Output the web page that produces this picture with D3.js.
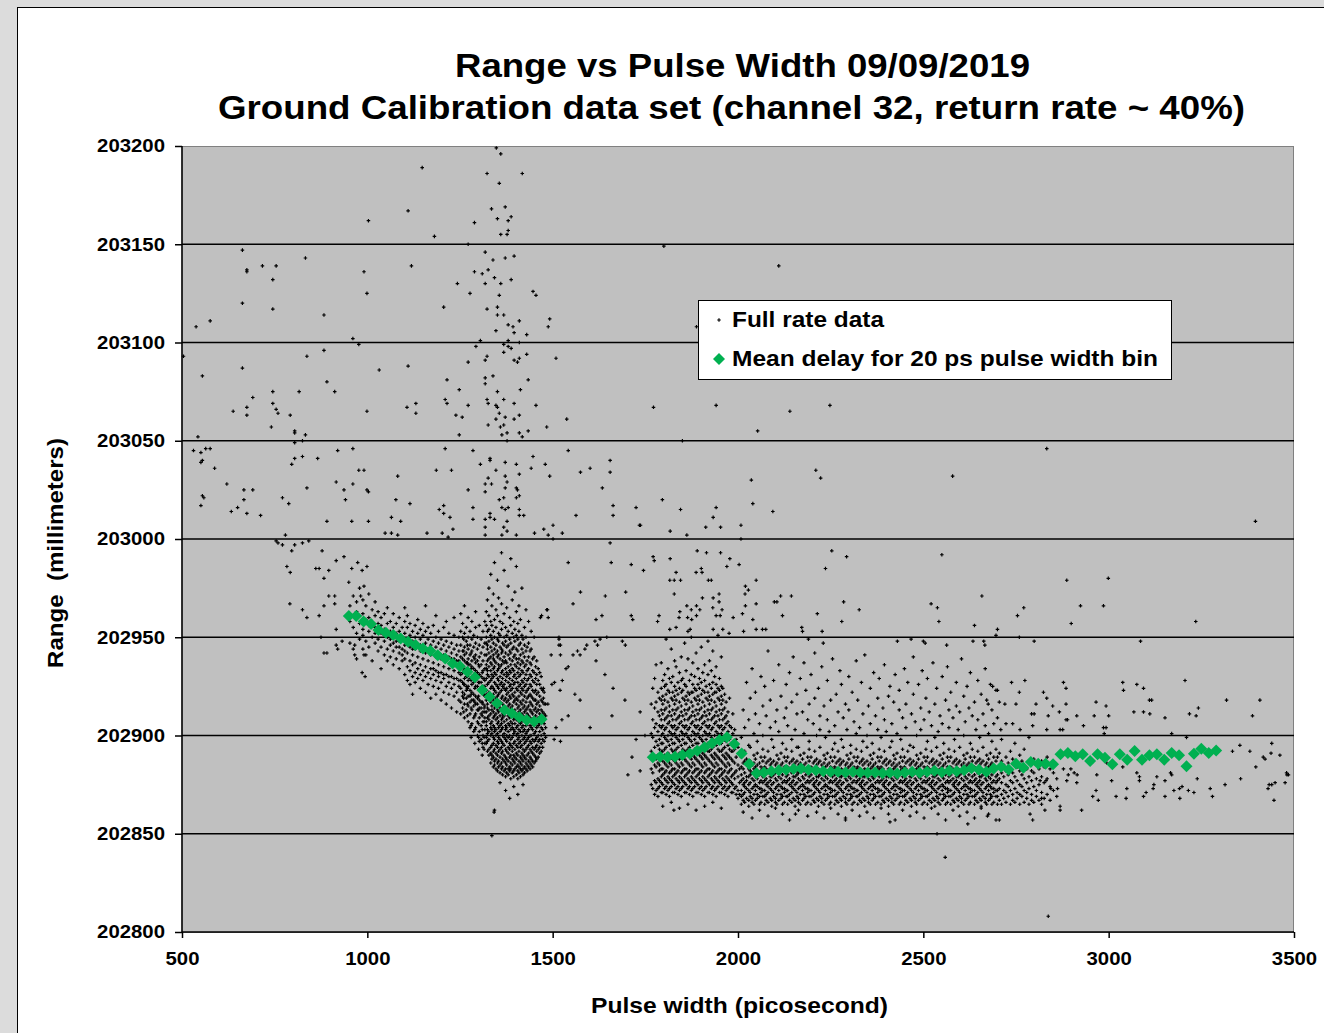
<!DOCTYPE html>
<html>
<head>
<meta charset="utf-8">
<script src="https://cdn.jsdelivr.net/npm/d3@7"></script>
<style>
  html, body { margin: 0; padding: 0; background: #dcdcdc; overflow: hidden; }
  svg { display: block; }
  text { font-family: "Liberation Sans", Arial, sans-serif; font-weight: bold; fill: #000; }
</style>
</head>
<body>
<div id="chart"></div>
<script>
(function () {
  // axis ticks
  const X_TICKS = [500, 1000, 1500, 2000, 2500, 3000, 3500];
  const Y_TICKS = [202800, 202850, 202900, 202950, 203000, 203050, 203100, 203150, 203200];

  // mean delay per 20 ps pulse width bin (green diamonds)
  const binPs = [
    950, 970, 990, 1010, 1030, 1050, 1070, 1090, 1110, 1130, 1150, 1170, 1190, 1210,
    1230, 1250, 1270, 1290, 1310, 1330, 1350, 1370, 1390, 1410, 1430, 1450, 1470,
    1770, 1790, 1810, 1830, 1850, 1870, 1890, 1910, 1930, 1950, 1970, 1990, 2010,
    2030, 2050, 2070, 2090, 2110, 2130, 2150, 2170, 2190, 2210, 2230, 2250, 2270,
    2290, 2310, 2330, 2350, 2370, 2390, 2410, 2430, 2450, 2470, 2490, 2510, 2530,
    2550, 2570, 2590, 2610, 2630, 2650, 2670, 2690, 2710, 2730, 2750, 2770, 2790,
    2810, 2830, 2850, 2870, 2890, 2910, 2930, 2950, 2970, 2990, 3010, 3030, 3050,
    3070, 3090, 3110, 3130, 3150, 3170, 3190, 3210, 3230, 3250, 3270, 3290,
  ];
  const binMean = [
    202960.8, 202960.8, 202958.0, 202956.7, 202953.7, 202952.3, 202951.1, 202949.4,
    202947.7, 202946.0, 202944.3, 202943.1, 202940.9, 202939.2, 202936.7, 202935.3,
    202932.5, 202929.6, 202923.2, 202919.7, 202916.4, 202913.0, 202911.3, 202909.3,
    202907.9, 202907.1, 202908.3,
    202888.9, 202889.2, 202888.9, 202889.2, 202890.1, 202890.9, 202892.3, 202894.0,
    202896.0, 202897.7, 202899.1, 202895.7, 202890.9, 202885.5, 202880.8, 202881.2,
    202881.8, 202882.3, 202882.6, 202882.9, 202883.2, 202882.6, 202882.3, 202881.8,
    202881.5, 202881.5, 202881.2, 202881.5, 202881.2, 202881.0, 202881.2, 202880.8,
    202881.0, 202880.6, 202881.2, 202881.5, 202881.0, 202881.5, 202882.0, 202881.3,
    202882.0, 202881.8, 202882.3, 202883.3, 202882.6, 202881.6, 202883.2, 202884.1,
    202882.7, 202885.6, 202883.6, 202886.5, 202885.6, 202885.6, 202885.4, 202890.4,
    202891.1, 202889.4, 202890.4, 202887.0, 202890.4, 202888.7, 202885.4, 202890.4,
    202887.7, 202892.1, 202887.7, 202889.9, 202890.4, 202887.7, 202891.1, 202889.9,
    202884.3, 202890.7, 202893.3, 202891.1, 202892.4,
  ];

  // full rate data: scattered single shots [pulse width ps, range mm]
  const sparsePts = [
    [1348,203199],[1360,203196],[1148,203189],[1323,203186],[1418,203186],[1356,203181],
    [1110,203167],[1335,203168],[1372,203169],[1003,203162],[1351,203163],[1380,203162],
    [1388,203164],[1289,203161],[1380,203157],[1360,203155],[1377,203155],[1181,203154],
    [1272,203150],[663,203147],[1318,203146],[833,203143],[1339,203142],[1372,203143],
    [1396,203144],[717,203139],[754,203139],[675,203137],[675,203136],[1119,203139],
    [991,203136],[1289,203136],[1326,203137],[1310,203135],[1343,203133],[745,203132],
    [1388,203132],[1243,203130],[1318,203130],[1360,203130],[999,203125],[1277,203125],
    [1356,203124],[1447,203126],[1455,203124],[663,203120],[745,203117],[1206,203118],
    [1323,203117],[1351,203118],[1351,203114],[1368,203114],[576,203111],[538,203108],
    [883,203114],[1492,203112],[1488,203108],[1347,203106],[1380,203109],[1393,203108],
    [1410,203111],[1396,203105],[1430,203104],[961,203102],[977,203099],[1305,203101],
    [1380,203101],[1368,203099],[1380,203098],[1388,203097],[1410,203100],[1293,203098],
    [504,203093],[837,203093],[883,203096],[1323,203093],[1318,203091],[1368,203095],
    [1396,203091],[1405,203090],[1410,203092],[1430,203094],[1509,203092],[555,203083],
    [663,203087],[1032,203086],[1110,203088],[1272,203090],[1339,203083],[1318,203082],
    [1318,203079],[1215,203081],[1434,203081],[891,203080],[912,203075],[745,203075],
    [691,203072],[816,203075],[1248,203076],[1351,203075],[1413,203076],[745,203069],
    [675,203067],[754,203066],[638,203065],[759,203064],[675,203063],[792,203063],
    [999,203065],[1107,203067],[1131,203069],[1131,203064],[1210,203071],[1215,203069],
    [1272,203068],[1323,203071],[1326,203069],[1347,203068],[1351,203067],[1368,203071],
    [1396,203069],[1455,203068],[1239,203063],[1256,203062],[1356,203064],[1347,203061],
    [1372,203062],[1410,203063],[1396,203061],[1538,203061],[741,203057],[1326,203058],
    [1359,203057],[1368,203058],[1484,203057],[804,203055],[804,203054],[833,203053],
    [543,203052],[1248,203053],[1363,203053],[1377,203054],[1410,203054],[1418,203052],
    [1434,203055],[1377,203050],[804,203049],[825,203050],
    [531,203045],[551,203044],[564,203046],[576,203046],[961,203046],[920,203045],
    [555,203040],[551,203039],[796,203038],[804,203041],[825,203042],[866,203041],
    [1210,203046],[1285,203045],[1331,203041],[1331,203040],[1305,203038],[1372,203039],
    [1402,203038],[1447,203042],[1480,203038],[1542,203045],[588,203036],[977,203035],
    [991,203035],[1186,203035],[1227,203035],[1347,203035],[1442,203036],[1575,203034],
    [621,203028],[667,203025],[691,203025],[837,203026],[916,203029],[937,203025],
    [961,203028],[999,203025],[1003,203024],[1082,203032],[1272,203025],[1318,203028],
    [1326,203031],[1335,203028],[1318,203024],[1372,203032],[1377,203029],[1372,203026],
    [1402,203026],[1405,203025],[1410,203033],[1492,203032],[555,203022],[559,203021],
    [551,203017],[667,203020],[771,203021],[788,203018],[941,203020],[1077,203020],
    [1115,203018],[1402,203021],[1410,203022],[1356,203020],[1368,203021],[633,203014],
    [650,203016],[675,203013],[712,203012],[1194,203015],[1206,203017],[1206,203013],
    [1285,203016],[1331,203013],[1363,203016],[1372,203015],[1380,203016],[1410,203015],
    [1410,203012],[1422,203012],[1563,203012],[891,203009],[958,203009],[1003,203009],
    [1065,203011],[1090,203009],[1223,203011],[1285,203010],[1331,203011],[1343,203010],
    [1318,203010],[1377,203009],[1501,203007],[779,203002],[1048,203003],[1065,203003],
    [1082,203002],[1161,203003],[1202,203003],[1218,203001],[1231,203005],[1318,203006],
    [1318,203002],[1368,203006],[1363,203002],[1377,203004],[1402,203002],[1451,203003],
    [1476,203005],[1488,203002],[1526,203003],[1501,203000],
    [754,202999],[771,202997],[759,202998],[804,202997],[825,202998],[842,202999],
    [796,202994],[783,202986],[792,202983],[791,202967],[825,202964],[837,202960],
    [870,202961],[875,202950],[883,202966],[883,202980],[861,202985],[870,202985],
    [896,202984],[878,202994],[916,202989],[937,202991],[896,202971],[912,202971],
    [912,202967],[916,202954],[916,202946],[920,202944],[883,202942],[891,202942],
    [932,202948],[950,202978],[958,202985],[974,202988],[999,202986],[991,202976],
    [986,202984],[982,202971],[966,202946],[966,202941],[986,202932],[994,202930],
    [991,202941],[1542,202988],[1575,202973],[1555,202967],[1517,202950],[1521,202946],
    [1496,202941],[1521,202941],[1542,202935],[1567,202943],[1555,202941],[1526,202928],
    [1505,202927],[1475,202924],[1475,202919],[1542,202910],[1509,202904],[1521,202897],
    [1488,202960],[1467,202960],[1484,202964],
    [1800,203149],[2110,203139],[1888,203108],[1772,203067],[1941,203068],[2053,203055],
    [2140,203065],[2248,203068],[1850,203050],[1601,203036],[1655,203040],[1655,203034],
    [1634,203026],[1663,203017],[1663,203012],[1725,203016],[1734,203007],[1737,203007],
    [1796,203020],[1845,203015],[1941,203016],[1933,203011],[1913,203006],[1953,203006],
    [2008,203007],[2036,203030],[2040,203018],[2094,203014],[2210,203035],[2223,203031],
    [1817,203004],[1862,203002],[2008,203000],[1655,202998],[1658,202988],[1712,202987],
    [1771,202991],[1774,202989],[1817,202990],[1745,202984],[1816,202979],[1828,202979],
    [1845,202979],[1833,202983],[1890,202994],[1915,202993],[1953,202993],[1978,202990],
    [1970,202986],[2003,202987],[1887,202983],[1901,202985],[1903,202983],[1928,202979],
    [1920,202979],[2049,202979],[2020,202976],[2028,202974],[2253,202994],[2293,202991],
    [2236,202985],[1642,202971],[1697,202973],[1486,202964],[1470,202961],[1617,202959],
    [1633,202961],[1712,202961],[1716,202959],[1783,202958],[1787,202961],[1828,202972],
    [1841,202960],[1843,202963],[1862,202966],[1888,202966],[1874,202964],[1864,202960],
    [1875,202959],[1888,202961],[1897,202964],[1904,202970],[1932,202965],[1933,202970],
    [1949,202972],[1949,202968],[1957,202964],[1941,202961],[1952,202961],[1987,202960],
    [2012,202962],[2020,202966],[2019,202972],[2049,202967],[2040,202959],[2098,202968],
    [2105,202968],[2115,202971],[2120,202961],[2144,202971],[2214,202962],[2172,202955],
    [2174,202953],[2227,202953],[2285,202968],[2280,202958],[2327,202964],[1816,202954],
    [1865,202953],[1871,202954],[1933,202954],[1959,202954],[1976,202952],[2015,202953],
    [2049,202954],[2066,202954],[2075,202954],[2190,202949],[2230,202947],[2430,202948],
    [2467,202949],[1517,202949],[1517,202946],[1614,202948],[1621,202946],[1688,202948],
    [1696,202946],[1646,202950],[1592,202946],
    [2833,203046],[2579,203032],[3396,203009],[2550,202992],[2887,202979],[2999,202980],
    [2658,202971],[2521,202967],[2538,202965],[2771,202965],[2924,202966],[2986,202966],
    [2542,202958],[2754,202961],[2899,202957],[3235,202958],[2638,202956],[2700,202954],
    [2696,202951],[2759,202950],[2634,202948],[2663,202948],[2799,202948],[3086,202948],
    [2500,202948],[2505,202947],[2563,202946],[2666,202946],
    [2687,202925],[2738,202927],[2774,202928],[2878,202927],[3038,202927],[3076,202926],
    [3206,202928],[2885,202924],[2759,202922],[2824,202922],[2833,202919],[3040,202923],
    [3094,202924],[3110,202918],[3116,202918],[3318,202918],[3408,202918],[2700,202923],
    [2675,202916],[2705,202917],[2720,202916],[2750,202916],[2804,202916],[2849,202915],
    [2885,202916],[2966,202917],[2993,202915],[2867,202912],[2792,202911],[2799,202911],
    [2837,202910],[2885,202908],[2914,202910],[2961,202910],[3000,202910],[3068,202912],
    [3094,202912],[3111,202911],[3152,202909],[3218,202911],[3236,202910],[3242,202914],
    [3388,202910],[2709,202903],[2741,202906],[2761,202903],[2795,202905],[2833,202903],
    [2869,202903],[2876,202903],[2932,202905],[2986,202904],[2993,202904],[2988,202901],
    [2889,202908],[3170,202901],[3210,202899],[3334,202892],[3381,202892],[3440,202896],
    [3438,202891],[3417,202889],[3422,202888],[3462,202890],[3397,202884],[3480,202881],
    [3485,202880],[3433,202875],[3440,202875],[3476,202876],[3446,202867],[3356,202878],
    [3314,202875],[3280,202869],[3239,202878],[3230,202871],[3215,202872],[3191,202873],
    [3176,202872],[3192,202868],[3152,202869],[3152,202877],[3170,202880],[3167,202881],
    [3130,202879],[3122,202875],[3120,202873],[3101,202871],[3094,202869],[3083,202877],
    [3083,202879],[3076,202881],[3049,202873],[3047,202868],[3038,202884],[3020,202869],
    [3008,202877],[2995,202886],[2968,202880],[2966,202872],[2957,202869],[2972,202867],
    [2927,202862],[2914,202876],[2915,202880],[2907,202881],[2898,202883],[2891,202880],
    [2887,202877],[2878,202883],[2862,202873],[2869,202864],[2844,202873],[2828,202862],
    [2788,202860],[2795,202857],[2673,202859],[2819,202868],[2815,202877],[2831,202877],
    [3481,202880],[3449,202876],[3430,202873],[3354,202895],[3198,202874],[3274,202873],
    [2837,202808],[2559,202838],[2537,202850],[1336,202849],[1342,202861],[1827,202862],
    [2869,202862],[2290,202858],[2410,202856],[2620,202855],[2155,202860],[2705,202857],
    [1536,202934],[1574,202941],[1628,202949],[1641,202931],[1663,202924],[1695,202918],
    [1574,202918],[1714,202889],[1736,202882],[1703,202880],[1660,202910],[1525,202908],
    [1504,202898],[1560,202921],[1617,202938],[1601,202904],[1749,202900],[1736,202912],
    [1725,202898],[1520,202923],[1587,202944],[1498,202926],[1487,202916],
  ];

  // full rate data, dense part: one column per pulse width [ps, mm, mm, ...]
  // shots around the first (short pulse) cluster
  const clusterLowCols = [
    [953,202958,202966,202947],[962,202955,202971,202961,202944],
    [971,202963,202952,202939,202968],[979,202957,202949,202975,202961],
    [988,202954,202962,202944,202969,202951],[996,202959,202948,202966,202941],
    [1004,202953,202960,202945,202972,202956],[1013,202950,202958,202964,202938],
    [1021,202955,202947,202961,202952,202968],[1029,202949,202957,202943,202963],
    [1037,202952,202945,202960,202956,202934],[1046,202948,202954,202941,202962,202951],
    [1054,202950,202944,202957,202938,202965],[1062,202946,202953,202940,202958,202949],
    [1070,202951,202943,202955,202936,202947,202962],[1078,202945,202952,202939,202957,202948],
    [1086,202948,202942,202953,202934,202960,202945],[1094,202944,202950,202938,202955,202941],
    [1101,202946,202939,202952,202931,202958,202943,202965],[1108,202942,202949,202935,202955,202928,202961],
    [1115,202945,202938,202951,202933,202957,202926],[1122,202941,202948,202936,202953,202930,202944,202921],
    [1129,202944,202937,202950,202932,202956,202927],[1136,202940,202946,202934,202952,202929,202959],
    [1143,202943,202936,202949,202931,202954,202924,202946],[1150,202939,202945,202933,202951,202928,202957],
    [1157,202942,202935,202947,202930,202953,202922,202966],[1164,202938,202944,202932,202949,202926,202955],
    [1171,202941,202934,202946,202929,202952,202919,202943],[1178,202937,202943,202931,202948,202925,202956,202934],
    [1185,202940,202933,202945,202928,202950,202921,202961],[1192,202936,202942,202930,202947,202924,202953,202932],
    [1199,202939,202932,202944,202927,202949,202918,202941],[1206,202935,202941,202929,202946,202922,202955,202931],
    [1213,202938,202931,202943,202925,202948,202916,202940,202958],[1220,202934,202940,202927,202945,202921,202952,202930],
    [1227,202937,202930,202942,202924,202947,202914,202939],[1234,202933,202939,202926,202944,202920,202951,202929,202960],
    [1241,202936,202929,202941,202922,202946,202912,202938],[1247,202932,202938,202925,202943,202918,202950,202928],
    [1252,202931,202924,202940,202917,202946,202936,202911,202953,202928,202962],
    [1257,202935,202927,202943,202920,202950,202932,202914,202939,202957,202922],
    [1260,202919,202926,202934,202943,202949,202912],
    [1262,202929,202938,202921,202945,202933,202916,202952,202926,202941,202909,202966],
    [1267,202934,202925,202942,202919,202948,202930,202913,202937,202955,202923],
    [1270,202916,202924,202930,202937,202946,202910],
    [1272,202928,202936,202920,202944,202931,202915,202950,202925,202939,202907,202960],
    [1277,202932,202923,202941,202917,202946,202929,202911,202936,202953,202920,202904],
    [1280,202914,202921,202928,202934,202942,202905,202899],
    [1282,202926,202935,202918,202943,202930,202913,202949,202922,202938,202906,202958],
    [1287,202931,202921,202940,202915,202945,202927,202909,202934,202951,202918,202902],
    [1290,202910,202917,202924,202931,202939,202903,202896],
    [1292,202925,202933,202916,202941,202928,202911,202947,202920,202937,202904,202963,202955],
    [1297,202929,202919,202938,202913,202944,202925,202907,202932,202950,202916,202900],
    [1300,202906,202913,202920,202927,202936,202899,202893],
    [1302,202923,202931,202914,202940,202927,202909,202946,202918,202935,202902,202956,202897],
    [1307,202927,202917,202936,202911,202942,202923,202905,202930,202949,202914,202898],
    [1310,202903,202910,202917,202924,202932,202896,202890],
    [1312,202921,202929,202912,202938,202925,202907,202945,202916,202933,202900,202953,202894],
    [1315,202899,202907,202914,202921,202929,202893],
    [1317,202925,202915,202934,202909,202941,202920,202903,202928,202947,202912,202896,202958],
    [1321,202896,202899,202905,202907,202912,202918,202921,202923,202929,202934,202936,202941,202947,202950,202956,202963],
    [1324,202892,202897,202901,202903,202909,202914,202916,202920,202926,202931,202933,202938,202944,202946,202953,202969],
    [1328,202890,202893,202898,202902,202908,202910,202913,202919,202922,202927,202930,202935,202939,202942,202948,202954,202961,202975],
    [1333,202886,202891,202894,202900,202904,202906,202911,202917,202920,202924,202928,202933,202937,202940,202945,202951,202958,202982],
    [1336,202888,202890,202895,202901,202903,202907,202913,202915,202919,202925,202929,202931,202936,202943,202949,202956,202966],
    [1340,202884,202889,202892,202896,202899,202905,202909,202912,202918,202921,202924,202930,202934,202939,202941,202947,202953,202972],
    [1343,202885,202887,202893,202898,202902,202904,202910,202914,202917,202923,202927,202932,202935,202938,202944,202950,202959,202988,202862],
    [1347,202883,202888,202891,202895,202900,202903,202908,202911,202916,202919,202922,202926,202931,202937,202942,202946,202955,202964],
    [1351,202882,202886,202890,202894,202897,202901,202906,202909,202913,202918,202920,202925,202929,202933,202940,202943,202949,202961,202979],
    [1354,202884,202887,202892,202896,202899,202904,202907,202912,202915,202921,202924,202928,202934,202936,202941,202948,202952,202970],
    [1358,202881,202885,202889,202893,202898,202902,202905,202910,202914,202917,202922,202926,202930,202935,202939,202945,202951,202958,202876],
    [1362,202883,202886,202891,202894,202897,202903,202906,202908,202913,202919,202923,202927,202932,202936,202942,202944,202954,202967,202993],
    [1365,202880,202884,202888,202892,202896,202900,202904,202909,202911,202916,202920,202925,202929,202933,202938,202943,202947,202957],
    [1369,202882,202887,202890,202895,202899,202901,202907,202910,202915,202918,202924,202926,202931,202937,202940,202946,202950,202962,202984],
    [1373,202879,202883,202886,202889,202893,202898,202903,202905,202912,202914,202919,202923,202928,202934,202938,202942,202948,202955,202872],
    [1376,202881,202885,202888,202892,202897,202900,202904,202908,202913,202917,202921,202924,202930,202932,202937,202945,202951,202965],
    [1380,202880,202883,202887,202891,202894,202899,202902,202906,202910,202915,202918,202922,202927,202931,202935,202941,202946,202953,202976],
    [1384,202882,202884,202889,202893,202896,202900,202905,202909,202912,202916,202920,202925,202929,202933,202939,202943,202949,202960,202868],
    [1387,202878,202883,202886,202890,202895,202898,202903,202907,202911,202914,202919,202923,202926,202932,202936,202942,202947,202956,202990],
    [1391,202881,202885,202888,202892,202894,202899,202904,202906,202910,202915,202921,202924,202928,202934,202938,202944,202952,202969],
    [1395,202879,202882,202887,202890,202896,202901,202903,202908,202912,202917,202920,202926,202930,202933,202940,202945,202950,202958,202874],
    [1398,202883,202886,202889,202893,202897,202902,202906,202909,202913,202918,202922,202927,202931,202936,202941,202948,202954,202973],
    [1402,202880,202884,202888,202891,202895,202900,202904,202908,202911,202916,202919,202924,202929,202935,202939,202944,202951,202963,202986],
    [1406,202878,202882,202885,202890,202894,202898,202901,202905,202910,202914,202918,202923,202927,202932,202937,202943,202949,202957,202870],
    [1409,202881,202884,202887,202892,202896,202899,202903,202907,202912,202915,202920,202925,202930,202934,202939,202946,202953,202966],
    [1413,202879,202883,202886,202889,202894,202897,202902,202906,202909,202913,202917,202922,202926,202931,202936,202941,202947,202959],
    [1417,202882,202885,202888,202891,202895,202900,202904,202907,202911,202916,202921,202924,202928,202933,202938,202944,202951,202975],
    [1420,202880,202883,202887,202890,202893,202898,202902,202905,202910,202914,202918,202923,202927,202932,202937,202942,202949,202875],
    [1424,202881,202884,202889,202892,202896,202899,202903,202908,202912,202915,202920,202925,202929,202935,202940,202946,202955],
    [1428,202883,202886,202888,202893,202897,202901,202905,202909,202913,202917,202922,202926,202931,202936,202943,202950,202964],
    [1431,202882,202885,202890,202894,202898,202902,202906,202911,202914,202919,202923,202928,202933,202938,202945],
    [1435,202884,202887,202891,202895,202899,202903,202907,202910,202915,202920,202924,202929,202934,202940,202947,202958],
    [1439,202883,202886,202889,202893,202897,202900,202905,202909,202913,202917,202921,202926,202931,202937,202943],
    [1442,202885,202888,202892,202896,202900,202904,202908,202912,202916,202920,202925,202930,202936,202944,202953],
    [1446,202884,202887,202891,202894,202898,202903,202906,202911,202915,202919,202923,202928,202933,202939],
    [1450,202886,202890,202893,202897,202901,202905,202909,202913,202918,202922,202927,202932,202940,202950],
    [1454,202887,202889,202894,202898,202902,202906,202910,202914,202918,202923,202929,202935],
    [1457,202888,202892,202895,202899,202904,202907,202912,202916,202921,202926,202931,202938],
    [1461,202889,202893,202897,202900,202905,202909,202913,202917,202922,202928,202934],
    [1465,202891,202894,202898,202902,202906,202911,202915,202920,202926,202932],
    [1469,202892,202896,202900,202904,202908,202913,202918,202924,202930],
    [1473,202894,202898,202903,202907,202912,202917,202923],
    [1477,202897,202901,202906,202911,202916,202922],
    [1481,202899,202904,202910,202916],
  ];

  // shots in the second cluster (1770-2010 ps)
  const clusterMidCols = [
    [1766,202875,202883,202892,202901,202916],
    [1770,202873,202881,202890,202899,202908,202924],
    [1775,202870,202877,202885,202894,202904,202914,202929],
    [1779,202872,202876,202884,202888,202897,202906,202917,202936],
    [1784,202869,202873,202878,202886,202890,202895,202902,202912,202922],
    [1788,202874,202877,202882,202885,202889,202893,202898,202905,202910,202919],
    [1793,202871,202876,202879,202883,202888,202892,202896,202900,202904,202908,202913,202918,202924,202937],
    [1797,202871,202875,202880,202883,202887,202892,202896,202901,202905,202911,202916,202920,202928,202864],
    [1802,202873,202878,202881,202886,202890,202893,202899,202903,202908,202913,202918,202925,202931],
    [1806,202870,202874,202877,202882,202885,202889,202894,202898,202904,202909,202914,202921,202926,202949],
    [1811,202872,202876,202879,202884,202888,202891,202897,202900,202906,202910,202917,202923,202934],
    [1815,202869,202873,202878,202881,202886,202890,202895,202902,202907,202912,202915,202922,202929],
    [1820,202874,202877,202882,202885,202889,202893,202898,202901,202905,202910,202919,202927,202944,202866],
    [1824,202871,202876,202879,202883,202888,202892,202896,202900,202904,202908,202913,202918,202922,202930],
    [1829,202871,202875,202880,202883,202887,202892,202896,202901,202905,202911,202916,202920,202925,202938],
    [1833,202873,202878,202881,202886,202890,202893,202899,202903,202908,202913,202918,202923,202935,202955],
    [1838,202870,202874,202877,202882,202885,202889,202894,202898,202904,202909,202914,202921,202927],
    [1842,202872,202876,202879,202884,202888,202891,202897,202900,202906,202910,202917,202924,202932,202863],
    [1847,202869,202873,202878,202881,202886,202890,202895,202902,202907,202912,202915,202922,202928,202940],
    [1851,202874,202877,202882,202885,202889,202893,202898,202901,202905,202910,202919,202923,202929],
    [1856,202871,202876,202879,202883,202888,202892,202896,202900,202904,202908,202913,202918,202926,202947],
    [1860,202871,202875,202880,202883,202887,202892,202896,202901,202905,202911,202916,202920,202925,202933],
    [1865,202873,202878,202881,202886,202890,202893,202899,202903,202908,202913,202918,202922,202939,202865],
    [1869,202870,202874,202877,202882,202885,202889,202894,202898,202904,202909,202914,202921,202928],
    [1874,202872,202876,202879,202884,202888,202891,202897,202900,202906,202910,202917,202922,202931,202950],
    [1878,202869,202873,202878,202881,202886,202890,202895,202902,202907,202912,202915,202922,202926,202937],
    [1883,202874,202877,202882,202885,202889,202893,202898,202901,202905,202910,202919,202924,202930],
    [1887,202871,202876,202879,202883,202888,202892,202896,202900,202904,202908,202913,202918,202923,202942,202862],
    [1892,202871,202875,202880,202883,202887,202892,202896,202901,202905,202911,202916,202920,202926,202934],
    [1896,202873,202878,202881,202886,202890,202893,202899,202903,202908,202913,202918,202924,202929],
    [1901,202870,202874,202877,202882,202885,202889,202894,202898,202904,202909,202914,202921,202927,202945],
    [1905,202872,202876,202879,202884,202888,202891,202897,202900,202906,202910,202917,202923,202932],
    [1910,202869,202873,202878,202881,202886,202890,202895,202902,202907,202912,202915,202922,202928,202936,202864],
    [1914,202874,202877,202882,202885,202889,202893,202898,202901,202905,202910,202919,202925],
    [1919,202871,202876,202879,202883,202888,202892,202896,202900,202904,202908,202913,202918,202922,202931,202948],
    [1923,202871,202875,202880,202883,202887,202892,202896,202901,202905,202911,202916,202920,202926,202938],
    [1928,202873,202878,202881,202886,202890,202893,202899,202903,202908,202913,202918,202924,202933],
    [1932,202870,202874,202877,202882,202885,202889,202894,202898,202904,202909,202914,202921,202927,202943,202866],
    [1937,202872,202876,202879,202884,202888,202891,202897,202900,202906,202910,202917,202922,202930],
    [1941,202869,202873,202878,202881,202886,202890,202895,202902,202907,202912,202915,202922,202926,202935],
    [1946,202874,202877,202882,202885,202889,202893,202898,202901,202905,202910,202919,202924,202951],
    [1950,202871,202876,202879,202883,202888,202892,202896,202900,202904,202908,202913,202918,202923,202929],
    [1955,202871,202875,202880,202883,202887,202892,202896,202901,202905,202911,202916,202920,202925,202940,202863],
    [1959,202873,202878,202881,202886,202890,202893,202899,202903,202908,202913,202918,202924],
    [1964,202870,202874,202877,202882,202885,202889,202894,202898,202904,202909,202914,202921],
    [1968,202872,202876,202879,202884,202888,202891,202897,202900,202906,202910,202917],
    [1973,202869,202873,202878,202881,202886,202890,202895,202902,202907,202912],
    [1977,202874,202877,202882,202885,202889,202893,202898,202905,202919],
    [1982,202871,202876,202879,202883,202888,202892,202896,202904],
    [1986,202871,202875,202880,202887,202892,202901,202911],
    [1991,202873,202878,202881,202886,202893,202903],
    [1995,202870,202874,202882,202889,202898],
    [2000,202868,202872,202879,202885,202894],
    [2004,202870,202876,202883,202891],
  ];

  // shots in the long flat band (2010-2870 ps)
  const bandCols = [
    [2009,202865,202869,202872,202877,202880,202884,202889,202899],
    [2014,202867,202870,202875,202878,202883,202886,202913,202861],
    [2018,202866,202871,202874,202876,202881,202887,202892,202904],
    [2023,202868,202873,202877,202879,202885,202888,202927],
    [2029,202864,202867,202872,202875,202879,202883,202886,202908,202895],
    [2033,202869,202871,202876,202880,202882,202887,202894,202919],
    [2038,202866,202868,202873,202878,202881,202885,202934,202858],
    [2043,202865,202870,202874,202877,202883,202886,202890,202901],
    [2047,202867,202872,202875,202879,202884,202888,202911,202922],
    [2052,202868,202870,202874,202878,202882,202885,202891,202897],
    [2058,202865,202869,202873,202876,202880,202886,202906,202862],
    [2062,202866,202871,202873,202877,202882,202884,202889,202930],
    [2067,202869,202872,202876,202879,202883,202887,202893,202915,202900],
    [2072,202865,202869,202872,202877,202880,202884,202889,202925],
    [2076,202867,202870,202875,202878,202883,202886,202910],
    [2081,202866,202871,202874,202876,202881,202887,202892,202943,202859],
    [2087,202868,202873,202877,202879,202885,202888,202904,202918],
    [2091,202864,202867,202872,202875,202879,202883,202886,202898],
    [2096,202869,202871,202876,202880,202882,202887,202894,202928],
    [2101,202866,202868,202873,202878,202881,202885,202907,202863],
    [2105,202865,202870,202874,202877,202883,202886,202890,202913],
    [2110,202867,202872,202875,202879,202884,202888,202936,202902],
    [2116,202868,202870,202874,202878,202882,202885,202891,202920],
    [2120,202865,202869,202873,202876,202880,202886,202896,202860],
    [2125,202866,202871,202873,202877,202882,202884,202889,202909],
    [2130,202869,202872,202876,202879,202883,202887,202893,202926,202914],
    [2134,202865,202869,202872,202877,202880,202884,202889,202905],
    [2139,202867,202870,202875,202878,202883,202886,202932,202857],
    [2145,202866,202871,202874,202876,202881,202887,202892,202898,202917],
    [2149,202868,202873,202877,202879,202885,202888,202940],
    [2154,202864,202867,202872,202875,202879,202883,202886,202903],
    [2159,202869,202871,202876,202880,202882,202887,202894,202921,202911],
    [2163,202866,202868,202873,202878,202881,202885,202894,202862],
    [2168,202865,202870,202874,202877,202883,202886,202890,202929],
    [2174,202867,202872,202875,202879,202884,202888,202912],
    [2178,202868,202870,202874,202878,202882,202885,202891,202901,202937],
    [2183,202865,202869,202873,202876,202880,202886,202923],
    [2188,202866,202871,202873,202877,202882,202884,202889,202908,202859],
    [2192,202869,202872,202876,202879,202883,202887,202893,202897,202916],
    [2197,202865,202869,202872,202877,202880,202884,202889,202931],
    [2203,202867,202870,202875,202878,202883,202886,202906],
    [2207,202866,202871,202874,202876,202881,202887,202892,202919,202942],
    [2212,202868,202873,202877,202879,202885,202888,202900,202861],
    [2217,202864,202867,202872,202875,202879,202883,202886,202924],
    [2221,202869,202871,202876,202880,202882,202887,202894,202910,202903],
    [2226,202866,202868,202873,202878,202881,202885,202935],
    [2232,202865,202870,202874,202877,202883,202886,202890,202915,202858],
    [2236,202867,202872,202875,202879,202884,202888,202899],
    [2241,202868,202870,202874,202878,202882,202885,202891,202928,202908],
    [2246,202865,202869,202873,202876,202880,202886,202902],
    [2250,202866,202871,202873,202877,202882,202884,202889,202918,202863],
    [2255,202869,202872,202876,202879,202883,202887,202893,202939],
    [2261,202865,202869,202872,202877,202880,202884,202889,202905,202896],
    [2265,202867,202870,202875,202878,202883,202886,202921],
    [2270,202866,202871,202874,202876,202881,202887,202892,202912,202860],
    [2275,202868,202873,202877,202879,202885,202888,202933],
    [2279,202864,202867,202872,202875,202879,202883,202886,202898,202926],
    [2284,202869,202871,202876,202880,202882,202887,202894,202909],
    [2290,202866,202868,202873,202878,202881,202885,202916,202857],
    [2294,202865,202870,202874,202877,202883,202886,202890,202903],
    [2299,202867,202872,202875,202879,202884,202888,202930,202913],
    [2304,202868,202870,202874,202878,202882,202885,202891,202895],
    [2308,202865,202869,202873,202876,202880,202886,202922,202862],
    [2313,202866,202871,202873,202877,202882,202884,202889,202907],
    [2319,202869,202872,202876,202879,202883,202887,202893,202938,202901],
    [2323,202865,202869,202872,202877,202880,202884,202889,202918],
    [2328,202867,202870,202875,202878,202883,202886,202904,202859],
    [2333,202866,202871,202874,202876,202881,202887,202892,202927],
    [2337,202868,202873,202877,202879,202885,202888,202911,202897],
    [2342,202864,202867,202872,202875,202879,202883,202886,202941],
    [2348,202869,202871,202876,202880,202882,202887,202894,202900,202861],
    [2352,202866,202868,202873,202878,202881,202885,202915],
    [2357,202865,202870,202874,202877,202883,202886,202890,202924,202906],
    [2362,202867,202872,202875,202879,202884,202888,202896],
    [2366,202868,202870,202874,202878,202882,202885,202891,202932,202858],
    [2371,202865,202869,202873,202876,202880,202886,202910],
    [2377,202866,202871,202873,202877,202882,202884,202889,202903,202919],
    [2381,202869,202872,202876,202879,202883,202887,202893,202929],
    [2386,202865,202869,202872,202877,202880,202884,202889,202899,202863],
    [2391,202867,202870,202875,202878,202883,202886,202914],
    [2395,202866,202871,202874,202876,202881,202887,202892,202936,202908],
    [2400,202868,202873,202877,202879,202885,202888,202902],
    [2406,202864,202867,202872,202875,202879,202883,202886,202920,202860],
    [2410,202869,202871,202876,202880,202882,202887,202894,202925],
    [2415,202866,202868,202873,202878,202881,202885,202906,202897],
    [2420,202865,202870,202874,202877,202883,202886,202890,202917],
    [2424,202867,202872,202875,202879,202884,202888,202931,202857],
    [2429,202868,202870,202874,202878,202882,202885,202891,202901],
    [2435,202865,202869,202873,202876,202880,202886,202913,202923],
    [2439,202866,202871,202873,202877,202882,202884,202889,202898],
    [2444,202869,202872,202876,202879,202883,202887,202893,202909,202862],
    [2449,202865,202869,202872,202877,202880,202884,202889,202934],
    [2453,202867,202870,202875,202878,202883,202886,202904,202916],
    [2458,202866,202871,202874,202876,202881,202887,202892,202927],
    [2464,202868,202873,202877,202879,202885,202888,202895,202859],
    [2468,202864,202867,202872,202875,202879,202883,202886,202911],
    [2473,202869,202871,202876,202880,202882,202887,202894,202921,202940],
    [2478,202866,202868,202873,202878,202881,202885,202907],
    [2482,202865,202870,202874,202877,202883,202886,202890,202900,202861],
    [2487,202867,202872,202875,202879,202884,202888,202926],
    [2493,202868,202870,202874,202878,202882,202885,202891,202914,202903],
    [2497,202865,202869,202873,202876,202880,202886,202933],
    [2502,202866,202871,202873,202877,202882,202884,202889,202908,202858],
    [2507,202869,202872,202876,202879,202883,202887,202893,202919],
    [2511,202865,202869,202872,202877,202880,202884,202889,202897,202929],
    [2516,202867,202870,202875,202878,202883,202886,202912],
    [2522,202866,202871,202874,202876,202881,202887,202892,202905,202863],
    [2526,202868,202873,202877,202879,202885,202888,202937],
    [2531,202864,202867,202872,202875,202879,202883,202886,202916,202899],
    [2536,202869,202871,202876,202880,202882,202887,202894,202924],
    [2540,202866,202868,202873,202878,202881,202885,202902,202860],
    [2545,202865,202870,202874,202877,202883,202886,202890,202910],
    [2551,202867,202872,202875,202879,202884,202888,202930,202906],
    [2555,202868,202870,202874,202878,202882,202885,202891,202896],
    [2560,202865,202869,202873,202876,202880,202886,202918,202857],
    [2565,202866,202871,202873,202877,202882,202884,202889,202935],
    [2569,202869,202872,202876,202879,202883,202887,202893,202904,202913],
    [2574,202865,202869,202872,202877,202880,202884,202889,202922],
    [2580,202867,202870,202875,202878,202883,202886,202909,202862],
    [2584,202866,202871,202874,202876,202881,202887,202892,202898],
    [2589,202868,202873,202877,202879,202885,202888,202927,202915],
    [2594,202864,202867,202872,202875,202879,202883,202886,202903],
    [2598,202869,202871,202876,202880,202882,202887,202894,202912,202859],
    [2603,202866,202868,202873,202878,202881,202885,202939],
    [2609,202865,202870,202874,202877,202883,202886,202890,202900,202920],
    [2613,202867,202872,202875,202879,202884,202888,202907],
    [2618,202868,202870,202874,202878,202882,202885,202891,202925,202861],
    [2623,202865,202869,202873,202876,202880,202886,202914],
    [2627,202866,202871,202873,202877,202882,202884,202889,202896,202932],
    [2632,202869,202872,202876,202879,202883,202887,202893,202910],
    [2638,202865,202869,202872,202877,202880,202884,202889,202917,202858],
    [2642,202867,202870,202875,202878,202883,202886,202903],
    [2647,202866,202871,202874,202876,202881,202887,202892,202928,202908],
    [2652,202868,202873,202877,202879,202885,202888,202899],
    [2656,202864,202867,202872,202875,202879,202883,202886,202921,202863],
    [2661,202869,202871,202876,202880,202882,202887,202894,202911],
    [2667,202866,202868,202873,202878,202881,202885,202905,202934],
    [2671,202865,202870,202874,202877,202883,202886,202890,202918],
    [2676,202867,202872,202875,202879,202884,202888,202901,202860],
    [2681,202868,202870,202874,202878,202882,202885,202891,202926],
    [2685,202865,202869,202873,202876,202880,202886,202913,202897],
    [2690,202866,202871,202873,202877,202882,202884,202889,202906],
    [2696,202869,202872,202876,202879,202883,202887,202893,202923,202857],
    [2700,202865,202869,202872,202877,202880,202884,202889,202909],
    [2705,202867,202873,202878,202884,202891],
    [2711,202865,202870,202876,202881,202887,202898],
    [2717,202868,202872,202879,202885],
    [2723,202866,202871,202875,202882,202889,202906],
    [2729,202869,202874,202880,202886],
    [2735,202865,202872,202877,202883,202892],
    [2741,202867,202870,202876,202881,202888],
    [2747,202866,202873,202879,202885,202896],
    [2753,202868,202871,202877,202884],
    [2760,202865,202870,202875,202882,202890],
    [2766,202869,202874,202880,202887],
    [2772,202866,202872,202878,202884,202893],
    [2779,202868,202871,202876,202883],
    [2785,202865,202873,202879,202886,202899],
    [2792,202867,202870,202877,202882],
    [2798,202866,202874,202881,202888],
    [2805,202869,202872,202878,202885],
    [2812,202867,202875,202883],
    [2819,202865,202871,202879,202887],
    [2826,202868,202876,202884],
    [2834,202870,202878,202889],
    [2842,202867,202874,202883],
    [2851,202872,202881],
    [2860,202869,202878],
  ];

  const width = 1324;
  const height = 1033;
  const plotArea = { left: 182, top: 146, right: 1294, bottom: 932 };
  const STRETCH = 1.095; // the original export is a little wider than tall

  const svg = d3
    .select("#chart")
    .append("svg")
    .attr("width", width)
    .attr("height", height);

  // white chart area
  svg
    .append("rect")
    .attr("x", 17.5)
    .attr("y", 7.5)
    .attr("width", 1400)
    .attr("height", 1100)
    .attr("fill", "#fff")
    .attr("stroke", "#000");

  const x = d3
    .scaleLinear()
    .domain([500, 3500])
    .range([plotArea.left, plotArea.right]);
  const y = d3
    .scaleLinear()
    .domain([202800, 203200])
    .range([plotArea.bottom, plotArea.top]);

  // plot background
  svg
    .append("rect")
    .attr("x", plotArea.left)
    .attr("y", plotArea.top + 0.5)
    .attr("width", plotArea.right - plotArea.left - 0.5)
    .attr("height", plotArea.bottom - plotArea.top)
    .attr("fill", "#c0c0c0")
    .attr("stroke", "#808080");

  // horizontal gridlines
  svg
    .append("g")
    .selectAll("line")
    .data(Y_TICKS.slice(1, -1))
    .join("line")
    .attr("x1", plotArea.left)
    .attr("x2", plotArea.right)
    .attr("y1", (d) => y(d))
    .attr("y2", (d) => y(d))
    .attr("stroke", "#000")
    .attr("stroke-width", 1.6);

  // full rate data
  const columnsToPoints = (cols) =>
    cols.flatMap((c) => c.slice(1).map((v) => [c[0], v]));
  const points = sparsePts.concat(
    columnsToPoints(clusterLowCols),
    columnsToPoints(clusterMidCols),
    columnsToPoints(bandCols)
  );
  const dot = d3.symbol(d3.symbolCross).size(7)();
  svg
    .append("g")
    .selectAll("path")
    .data(points)
    .join("path")
    .attr("d", dot)
    .attr("transform", (d) => `translate(${x(d[0])},${y(d[1])})`)
    .attr("fill", "#000");

  // mean delay diamonds
  const diamond = "M0,-6L6,0L0,6L-6,0Z";
  svg
    .append("g")
    .selectAll("path")
    .data(binPs.map((p, i) => [p, binMean[i]]))
    .join("path")
    .attr("d", diamond)
    .attr("transform", (d) => `translate(${x(d[0])},${y(d[1])})`)
    .attr("fill", "#00b050");

  // axes
  const yAxis = svg
    .append("g")
    .attr("transform", `translate(${plotArea.left},0)`)
    .call(
      d3.axisLeft(y).tickValues(Y_TICKS).tickSize(7).tickFormat(d3.format("d"))
    );
  yAxis.select(".domain").remove();
  yAxis.selectAll("line").attr("stroke", "#000").attr("stroke-width", 1.5);
  yAxis
    .selectAll("text")
    .attr("x", -15.5)
    .attr("transform", `scale(${STRETCH},1)`)
    .style("font-size", "18.6px")
    .style("font-family", '"Liberation Sans", Arial, sans-serif')
    .style("font-weight", "bold");

  const xAxis = svg
    .append("g")
    .attr("transform", `translate(0,${plotArea.bottom})`)
    .call(d3.axisBottom(x).tickValues(X_TICKS).tickSize(6).tickFormat(d3.format("d")));
  xAxis.select(".domain").remove();
  xAxis.selectAll("line").attr("stroke", "#000").attr("stroke-width", 1.5);
  xAxis
    .selectAll("text")
    .attr("y", 33)
    .attr("dy", 0)
    .attr("transform", `scale(${STRETCH},1)`)
    .style("font-size", "18.6px")
    .style("font-family", '"Liberation Sans", Arial, sans-serif')
    .style("font-weight", "bold");

  // axis lines
  svg
    .append("line")
    .attr("x1", plotArea.left)
    .attr("x2", plotArea.left)
    .attr("y1", plotArea.top)
    .attr("y2", plotArea.bottom + 0.75)
    .attr("stroke", "#000")
    .attr("stroke-width", 1.5);
  svg
    .append("line")
    .attr("x1", plotArea.left)
    .attr("x2", plotArea.right)
    .attr("y1", plotArea.bottom)
    .attr("y2", plotArea.bottom)
    .attr("stroke", "#000")
    .attr("stroke-width", 1.5);

  // titles
  svg
    .append("text")
    .attr("x", 455)
    .attr("y", 77)
    .attr("textLength", 575)
    .attr("lengthAdjust", "spacingAndGlyphs")
    .style("font-size", "33.5px")
    .text("Range vs Pulse Width 09/09/2019");
  svg
    .append("text")
    .attr("x", 218)
    .attr("y", 119)
    .attr("textLength", 1027)
    .attr("lengthAdjust", "spacingAndGlyphs")
    .style("font-size", "33.5px")
    .text("Ground Calibration data set (channel 32, return rate ~ 40%)");

  svg
    .append("text")
    .attr("x", 591)
    .attr("y", 1013)
    .attr("textLength", 297)
    .attr("lengthAdjust", "spacingAndGlyphs")
    .style("font-size", "22.4px")
    .text("Pulse width (picosecond)");
  svg
    .append("text")
    .attr("transform", "translate(63,668) rotate(-90)")
    .attr("textLength", 230)
    .attr("lengthAdjust", "spacingAndGlyphs")
    .style("font-size", "22.4px")
    .style("white-space", "pre")
    .text("Range  (millimeters)");

  // legend
  const legend = svg.append("g");
  legend
    .append("rect")
    .attr("x", 698.5)
    .attr("y", 300.5)
    .attr("width", 473)
    .attr("height", 79)
    .attr("fill", "#fff")
    .attr("stroke", "#000");
  legend
    .append("path")
    .attr("d", dot)
    .attr("transform", "translate(719,320)")
    .attr("fill", "#000");
  legend
    .append("path")
    .attr("d", diamond)
    .attr("transform", "translate(719,359)")
    .attr("fill", "#00b050");
  legend
    .append("text")
    .attr("x", 732)
    .attr("y", 327)
    .attr("textLength", 152)
    .attr("lengthAdjust", "spacingAndGlyphs")
    .style("font-size", "22.4px")
    .text("Full rate data");
  legend
    .append("text")
    .attr("x", 732)
    .attr("y", 366)
    .attr("textLength", 426)
    .attr("lengthAdjust", "spacingAndGlyphs")
    .style("font-size", "22.4px")
    .text("Mean delay for 20 ps pulse width bin");
})();
</script>
</body>
</html>
